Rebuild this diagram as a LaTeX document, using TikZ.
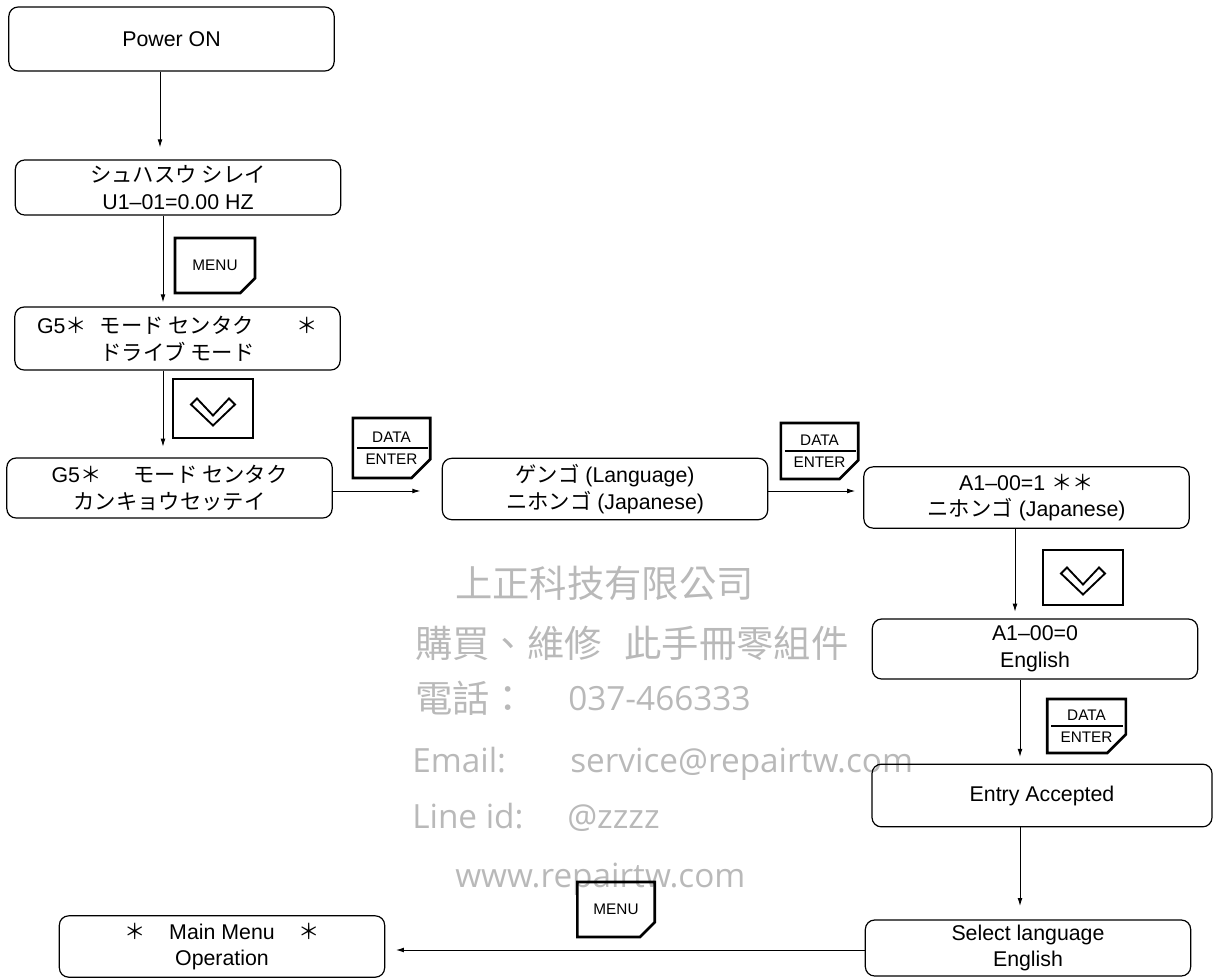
\documentclass[tikz,border=0pt]{standalone}
\usepackage{fontspec}
\setmainfont{Liberation Sans}
\newfontfamily\kana{Noto Sans CJK JP}
\newfontfamily\hanzi{Noto Sans CJK TC}
\newfontfamily\wmlatin{Open Sans}
\usetikzlibrary{arrows.meta,shapes.misc}
\definecolor{wmgray}{RGB}{185,185,185}

\tikzset{
  screen/.style={draw, rounded corners=7pt, line width=0.9pt, align=center,
    minimum width=244pt, minimum height=46pt, inner sep=0pt,
    font=\fontsize{16}{20}\selectfont},
  keybox/.style={draw, chamfered rectangle, chamfered rectangle corners=south east,
    chamfered rectangle xsep=7pt, chamfered rectangle ysep=7pt,
    line width=2pt, align=center, inner sep=0pt,
    minimum width=58pt, minimum height=42pt,
    font=\fontsize{11.5}{16.5}\selectfont},
  menukey/.style={keybox, font=\fontsize{11.5}{13}\selectfont},
  flow/.style={line width=0.7pt, -{Latex[length=6pt,width=3.6pt]}},
  vee/.style={line width=1.4pt, line join=miter},
  wmark/.style={anchor=base west, inner sep=0pt, text=wmgray},
  wmcjk/.style={wmark, font=\hanzi\fontsize{28}{30}\selectfont},
  wmlat/.style={wmark, font=\wmlatin\fontsize{25}{30}\selectfont},
}

\begin{document}
\begin{tikzpicture}[x=0.75pt, y=-0.75pt]
      \useasboundingbox (0,0) rectangle (1217,978);

      \node[wmcjk] (wmco) at (455,597) {上正科技有限公司};
      \node[wmcjk] (wmsvc) at (415,657) {購買、維修\hspace{0.6em}此手冊零組件};
      \node[wmcjk] (wmtel) at (415,712) {電話：};
      \node[wmlat] (wmtelno) at (568,710) {037-466333};
      \node[wmlat] (wmmail) at (412,772) {Email:};
      \node[wmlat] (wmmailad) at (570,772) {service@repairtw.com};
      \node[wmlat] (wmline) at (412,828) {Line id:};
      \node[wmlat] (wmlineid) at (567,828) {@zzzz};
      \node[wmlat] (wmweb) at (455,887) {www.repairtw.com};

      \node[screen, minimum height=48pt] (pwr) at (171.5,39) {Power ON};
      \node[screen, minimum height=41.25pt] (disp) at (178,187.5) {{\kana シュハスウ シレイ}\\U1--01=0.00 HZ};
      \node[screen, minimum height=47.25pt] (drvmode) at (177.5,338.5) {G5{\kana ＊\hspace{0.6em}モード センタク\hspace{2em}＊}\\{\kana ドライブ モード}};
      \node[screen, minimum height=45pt] (envset) at (169.5,488) {G5{\kana ＊\hspace{1.5em}モード センタク}\\{\kana カンキョウセッテイ}};
      \node[screen] (lang) at (605,489) {{\kana ゲンゴ} (Language)\\{\kana ニホンゴ} (Japanese)};
      \node[screen] (jpn) at (1026.5,497.5) {A1--00=1 {\kana ＊＊}\\{\kana ニホンゴ} (Japanese)};
      \node[screen, minimum height=45pt] (eng) at (1035,649) {A1--00=0\\English};
      \node[screen, minimum width=255pt, minimum height=47pt] (accept) at (1042,795.5) {Entry Accepted};
      \node[screen, minimum height=42pt] (sellang) at (1028,948) {Select language\\English};
      \node[screen] (mainmenu) at (222,946.5) {{\kana ＊}\hspace{1.1em}Main Menu\hspace{1.1em}{\kana ＊}\\Operation};

      \node[menukey, minimum width=60pt, minimum height=41.25pt] (menuA) at (215,265.5) {MENU};
      \node[keybox, minimum width=60pt, minimum height=44.25pt] (downA) at (213,408.5) {};
      \node[keybox, minimum height=45pt] (enterA) at (391.5,448) {DATA\\ENTER};
      \node[keybox] (enterB) at (819.5,451) {DATA\\ENTER};
      \node[keybox, minimum width=60pt, minimum height=41.25pt] (downB) at (1083,577.5) {};
      \node[keybox, minimum width=59pt, minimum height=40.5pt] (enterC) at (1086.5,726) {DATA\\ENTER};
      \node[menukey, minimum height=41.25pt] (menuB) at (616,909.5) {MENU};

      \draw[vee, shift={(downA.center)}] (-22,-4) -- (0,17) -- (22,-4) -- (16,-10) -- (0,7) -- (-16,-10) -- cycle;
      \draw[vee, shift={(downB.center)}] (-22,-4) -- (0,17) -- (22,-4) -- (16,-10) -- (0,7) -- (-16,-10) -- cycle;
      \draw[line width=1.4pt] ([xshift=4pt]enterA.west) -- ([xshift=-3pt]enterA.east);
      \draw[line width=1.4pt] ([xshift=4pt]enterB.west) -- ([xshift=-3pt]enterB.east);
      \draw[line width=1.4pt] ([xshift=4pt]enterC.west) -- ([xshift=-3pt]enterC.east);

      \coordinate (colA) at (160,0);
      \coordinate (colB) at (163,0);
      \coordinate (colC) at (1015,0);
      \coordinate (colD) at (1020,0);
      \coordinate (rowA) at (0,491);
      \coordinate (rowB) at (0,950);

      \draw[flow, shorten >=9pt] (pwr.south -| colA) -- (disp.north -| colA);
      \draw[flow, shorten >=3pt] (disp.south -| colB) -- (drvmode.north -| colB);
      \draw[flow, shorten >=8pt] (drvmode.south -| colB) -- (envset.north -| colB);
      \draw[flow, shorten >=16pt] (envset.east |- rowA) -- (lang.west |- rowA);
      \draw[flow, shorten >=6pt] (lang.east |- rowA) -- (jpn.west |- rowA);
      \draw[flow, shorten >=5pt] (jpn.south -| colC) -- (eng.north -| colC);
      \draw[flow, shorten >=5pt] (eng.south -| colD) -- (accept.north -| colD);
      \draw[flow, shorten >=10pt] (accept.south -| colD) -- (sellang.north -| colD);
      \draw[flow, shorten >=8pt] (sellang.west |- rowB) -- (mainmenu.east |- rowB);
\end{tikzpicture}
\end{document}
